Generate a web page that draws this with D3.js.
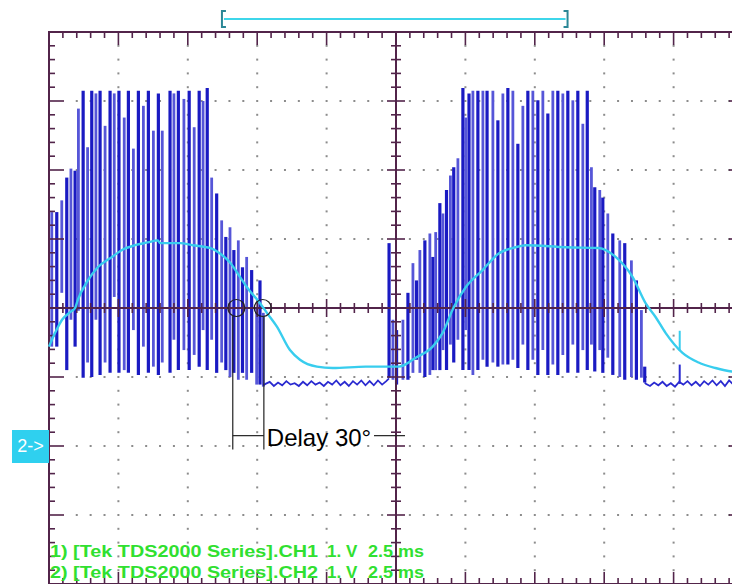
<!DOCTYPE html>
<html><head><meta charset="utf-8">
<script src="https://cdn.jsdelivr.net/npm/d3@7"></script>
<style>body{margin:0;background:#fff}svg{display:block}</style>
</head><body><svg id="c" width="732" height="584"></svg>
<script>
// ---- data (time in ms, 2.5 ms/div; voltage in V, 1 V/div) ----
const timeDomain = [0, 25];
const voltDomain = [-4, 4];
// CH1 PWM pulses: [time, top, bottom]
const ch1Pulses = [
 [0.10,1.39,-0.56],[0.28,1.39,-0.56],[0.46,1.56,0.22],[0.64,1.89,-0.90],[0.79,2.02,-0.17],
 [0.94,1.99,-0.56],[1.06,2.89,-0.04],[1.23,3.15,-1.01],[1.39,2.33,-0.79],[1.54,3.15,-1.00],
 [1.69,3.11,-0.17],[1.84,3.15,-0.97],[2.02,2.64,-0.79],[2.20,3.15,-0.94],[2.35,3.11,0.16],
 [2.52,3.15,-0.94],[2.71,2.76,-0.90],[2.86,3.15,-0.94],[3.04,2.31,-0.32],[3.22,3.15,-0.97],
 [3.40,2.93,-0.56],[3.58,3.15,-0.94],[3.76,2.57,-0.85],[3.94,3.11,-0.97],[4.08,2.57,-0.79],
 [4.36,3.15,-0.94],[4.50,3.11,-0.46],[4.66,3.15,-0.90],[4.86,3.03,-0.61],[5.05,3.15,-0.90],
 [5.23,2.62,-0.68],[5.41,3.15,-0.85],[5.55,3.00,-0.32],[5.70,3.19,-0.90],[5.86,1.89,-0.46],
 [6.04,1.66,-0.94],[6.22,1.27,-0.79],[6.37,1.03,-0.90],[6.52,1.17,-1.00],[6.66,0.84,-0.94],
 [6.82,0.98,-1.04],[6.97,0.59,-0.94],[7.12,0.74,-1.04],[7.30,0.55,-0.94],[7.48,0.01,-1.11],
 [7.60,0.40,-1.11],[7.72,-0.07,-1.14],
 [12.25,0.94,-1.01],[12.39,-0.17,-1.04],[12.52,-0.32,-1.11],[12.75,-0.17,-1.04],[12.93,0.22,-1.04],
 [13.11,0.65,-0.94],[13.24,0.40,-0.75],[13.36,0.84,-0.94],[13.54,0.98,-1.00],[13.72,1.08,-0.97],
 [13.83,0.74,-0.90],[13.93,1.10,-0.90],[14.08,1.52,-0.90],[14.19,1.37,-0.61],[14.32,1.71,-0.90],
 [14.46,1.92,-0.53],[14.58,2.04,-0.79],[14.73,2.17,-0.46],[14.91,3.19,-0.90],[15.01,2.76,-0.32],
 [15.13,3.11,-0.90],[15.27,3.15,-0.97],[15.45,3.15,-0.90],[15.63,3.15,-0.75],[15.78,3.15,-0.85],
 [15.99,3.15,-0.79],[16.17,2.72,-0.85],[16.35,3.11,-0.82],[16.53,3.19,-0.82],[16.71,3.15,-0.75],
 [16.89,2.38,-0.87],[17.07,2.93,-0.53],[17.25,3.15,-0.90],[17.43,3.15,-0.75],[17.61,3.01,-0.97],
 [17.79,3.15,-0.61],[17.97,2.82,-0.97],[18.15,3.15,-0.82],[18.33,3.15,-0.97],[18.51,3.11,-0.68],
 [18.69,3.15,-0.94],[18.87,3.01,-0.53],[19.05,3.15,-0.94],[19.23,2.67,-0.61],[19.39,3.15,-0.90],
 [19.54,2.04,-0.53],[19.66,1.75,-0.92],[19.84,1.71,-0.61],[19.95,1.60,-0.94],[20.13,1.37,-0.72],
 [20.31,1.08,-0.97],[20.56,0.98,-1.00],[20.74,0.94,-1.04],[20.98,0.69,-1.00],[21.16,0.40,-1.04],
 [21.34,-0.03,-1.01],[21.46,-0.85,-1.08]
];
// CH1 idle level between bursts: [time, volt]
const ch1BaselineA = [
 [7.72,-1.12],[7.80,-1.10],[7.95,-1.07],[8.10,-1.13],[8.25,-1.08],[8.40,-1.12],[8.55,-1.06],[8.70,-1.11],
 [8.85,-1.09],[9.00,-1.13],[9.15,-1.07],[9.30,-1.12],[9.45,-1.06],[9.60,-1.11],[9.75,-1.08],
 [9.90,-1.13],[10.05,-1.07],[10.20,-1.11],[10.35,-1.05],[10.50,-1.12],[10.65,-1.07],[10.80,-1.13],
 [10.95,-1.06],[11.10,-1.11],[11.25,-1.05],[11.40,-1.12],[11.55,-1.06],[11.70,-1.12],[11.85,-1.05],
 [12.00,-1.11],[12.15,-1.06],[12.25,-1.02]
];
const ch1BaselineB = [
 [21.46,-1.08],[21.50,-1.10],[21.65,-1.13],[21.80,-1.08],[21.95,-1.12],[22.10,-1.07],[22.25,-1.13],[22.40,-1.09],
 [22.55,-1.14],[22.70,-1.07],[22.85,-1.11],[23.00,-1.06],[23.15,-1.12],[23.30,-1.07],[23.45,-1.13],
 [23.60,-1.06],[23.75,-1.11],[23.90,-1.05],[24.05,-1.12],[24.20,-1.06],[24.35,-1.13],[24.50,-1.05],
 [24.65,-1.11],[24.80,-1.06],[24.95,-1.12]
];
const ch1Spikes = [[22.72,-1.10,-0.82]];
// CH2 filtered output: [time, volt]
const ch2Trace = [
 [0,-0.56],[0.22,-0.36],[0.47,-0.17],[0.76,-0.06],[0.94,0],[1.04,0.12],[1.40,0.40],[1.76,0.59],
 [2.27,0.74],[2.63,0.84],[3.10,0.91],[3.56,0.95],[3.92,0.98],[4.00,0.94],[4.72,0.94],[5.18,0.91],
 [5.80,0.87],[6.16,0.79],[6.52,0.66],[6.88,0.45],[7.13,0.30],[7.60,0.07],[7.85,-0.07],[8.21,-0.27],
 [8.68,-0.61],[9.04,-0.75],[9.65,-0.85],[10.22,-0.87],[11.41,-0.85],[12.60,-0.85],[13.21,-0.72],
 [13.82,-0.56],[14.18,-0.36],[14.58,0.01],[15.01,0.30],[15.62,0.55],[16.20,0.79],[16.81,0.88],
 [17.17,0.91],[18.61,0.88],[19.80,0.87],[20.41,0.74],[21.02,0.45],[21.49,0.07],[21.85,-0.13],
 [22.21,-0.36],[22.82,-0.65],[23.40,-0.79],[24.01,-0.87],[24.59,-0.92],[25,-0.93]
];
const ch2Spikes = [[22.72,-0.62,-0.33]];
const bracketRange = [6.23, 18.68];
const delayMarks = [6.62, 7.74];
const crossings = [6.75, 7.70];
const ch2Ground = -2;
const annotation = "Delay 30°";
const legendNames = ["1) [Tek TDS2000 Series].CH1", "2) [Tek TDS2000 Series].CH2"];
const legendScale = "1. V";
const legendTime = "2.5 ms";

// ---- drawing ----
const svg = d3.select("#c");
const x = d3.scaleLinear().domain(timeDomain).range([49, 743]);
const y = d3.scaleLinear().domain(voltDomain).range([584, 32]);
const frame = "#52244a";
const eps = 1e-6;
const minorT = d3.range(0, 25 + eps, 0.5);
const minorV = d3.range(-4, 4 + eps, 0.2);
const isMajT = t => Math.abs(t / 2.5 - Math.round(t / 2.5)) < 1e-6;
const isMajV = v => Math.abs(v - Math.round(v)) < 1e-6;

// grid dots
const g = svg.append("g").attr("fill", "#8c8c8c");
d3.range(-3, 3 + eps, 1).filter(v => Math.abs(v) > eps).forEach(v => {
  minorT.filter(t => t > 0.6 && t < 24.9 && Math.abs(t - 12.5) > 0.1).forEach(t => {
    g.append("rect").attr("x", x(t) - 1).attr("y", y(v) - 1).attr("width", 2).attr("height", 2);
  });
});
d3.range(2.5, 25, 2.5).filter(t => Math.abs(t - 12.5) > 0.1).forEach(t => {
  minorV.filter(v => v > -3.9 && v < 3.9 && !isMajV(v)).forEach(v => {
    g.append("rect").attr("x", x(t) - 1).attr("y", y(v) - 1).attr("width", 2).attr("height", 2);
  });
});

// CH1 bars
const bars = svg.append("g");
bars.selectAll("line").data(ch1Pulses).join("line")
  .attr("x1", d => x(d[0])).attr("x2", d => x(d[0]))
  .attr("y1", d => y(d[1])).attr("y2", d => y(d[2]))
  .attr("stroke", (d, i) => i % 2 ? "#1a1ac2" : "#5656d8")
  .attr("stroke-width", (d, i) => i % 2 ? 3.2 : 2.8);
const lineGen = d3.line().x(d => x(d[0])).y(d => y(d[1]));
[ch1BaselineA, ch1BaselineB].forEach(b => {
  svg.append("path").attr("d", lineGen(b)).attr("fill", "none")
    .attr("stroke", "#2a2ad0").attr("stroke-width", 1.8);
});
svg.append("g").selectAll("line").data(ch1Spikes).join("line")
  .attr("x1", d => x(d[0])).attr("x2", d => x(d[0]))
  .attr("y1", d => y(d[1])).attr("y2", d => y(d[2]))
  .attr("stroke", "#2a2ad0").attr("stroke-width", 2);

// center axes and frame
const ax = svg.append("g").attr("stroke", frame);
ax.append("line").attr("x1", x(0)).attr("x2", x(25)).attr("y1", y(0)).attr("y2", y(0)).attr("stroke-width", 2);
ax.append("line").attr("x1", x(12.5)).attr("x2", x(12.5)).attr("y1", y(4)).attr("y2", y(-4)).attr("stroke-width", 2);
minorT.forEach(t => {
  const L = isMajT(t) ? 9 : 5;
  ax.append("line").attr("x1", x(t)).attr("x2", x(t)).attr("y1", y(0) - L).attr("y2", y(0) + L).attr("stroke-width", 1.6);
  const T = isMajT(t) ? 13 : 6;
  ax.append("line").attr("x1", x(t)).attr("x2", x(t)).attr("y1", y(4)).attr("y2", y(4) + T).attr("stroke-width", 1.6);
  ax.append("line").attr("x1", x(t)).attr("x2", x(t)).attr("y1", y(-4)).attr("y2", y(-4) - (isMajT(t) ? 12 : 6)).attr("stroke-width", 1.6);
});
minorV.forEach(v => {
  const L = isMajV(v) ? 9 : 5;
  ax.append("line").attr("x1", x(12.5) - L).attr("x2", x(12.5) + L).attr("y1", y(v)).attr("y2", y(v)).attr("stroke-width", 1.6);
  const T = isMajV(v) ? 15 : 6;
  ax.append("line").attr("x1", x(0)).attr("x2", x(0) + T).attr("y1", y(v)).attr("y2", y(v)).attr("stroke-width", 1.6);
  ax.append("line").attr("x1", x(25)).attr("x2", x(25) - (isMajV(v) ? 14 : 6)).attr("y1", y(v)).attr("y2", y(v)).attr("stroke-width", 1.6);
});
ax.append("rect").attr("x", x(0)).attr("y", y(4)).attr("width", x(25) - x(0)).attr("height", y(-4) - y(4))
  .attr("fill", "none").attr("stroke-width", 2);

// CH2 trace
svg.append("path").attr("d", lineGen.curve(d3.curveMonotoneX)(ch2Trace)).attr("fill", "none")
  .attr("stroke", "#38cdee").attr("stroke-width", 2.4);
svg.append("g").selectAll("line").data(ch2Spikes).join("line")
  .attr("x1", d => x(d[0])).attr("x2", d => x(d[0]))
  .attr("y1", d => y(d[1])).attr("y2", d => y(d[2]))
  .attr("stroke", "#38cdee").attr("stroke-width", 2);

// annotation
const an = svg.append("g").attr("stroke", "#222").attr("fill", "none");
crossings.forEach(t => an.append("circle").attr("cx", x(t)).attr("cy", y(0)).attr("r", 8.5).attr("stroke-width", 1.2));
delayMarks.forEach(t => an.append("line").attr("x1", x(t)).attr("x2", x(t)).attr("y1", y(-0.12)).attr("y2", y(-2.05)).attr("stroke-width", 1.2));
an.append("line").attr("x1", x(delayMarks[0])).attr("x2", x(delayMarks[1])).attr("y1", y(-1.85)).attr("y2", y(-1.85)).attr("stroke-width", 1.2);
an.append("line").attr("x1", 374).attr("x2", 405).attr("y1", y(-1.85)).attr("y2", y(-1.85)).attr("stroke-width", 1.2);
svg.append("text").attr("x", x(delayMarks[1]) + 3).attr("y", y(-1.85) + 10)
  .attr("font-family", "Liberation Sans, Arial, sans-serif").attr("font-size", 24).attr("fill", "#000")
  .text(annotation);

// CH2 ground marker
svg.append("rect").attr("x", 12).attr("y", y(ch2Ground) - 16).attr("width", x(0) - 12).attr("height", 33).attr("fill", "#2fd0ef");
svg.append("text").attr("x", (12 + x(0)) / 2).attr("y", y(ch2Ground) + 6).attr("text-anchor", "middle")
  .attr("font-family", "Liberation Sans, Arial, sans-serif").attr("font-size", 18).attr("fill", "#fff").text("2->");

// trigger bracket
const br = svg.append("g");
br.append("line").attr("x1", x(bracketRange[0]) + 2).attr("x2", x(bracketRange[1]) - 2).attr("y1", 19).attr("y2", 19)
  .attr("stroke", "#3ed6ea").attr("stroke-width", 2);
br.append("path").attr("d", `M${x(bracketRange[0]) + 4},11 H${x(bracketRange[0])} V27 H${x(bracketRange[0]) + 4}`)
  .attr("fill", "none").attr("stroke", "#2b8796").attr("stroke-width", 2);
br.append("path").attr("d", `M${x(bracketRange[1]) - 4},11 H${x(bracketRange[1])} V27 H${x(bracketRange[1]) - 4}`)
  .attr("fill", "none").attr("stroke", "#2b8796").attr("stroke-width", 2);

// legend
const lg = svg.append("g").attr("font-family", "Liberation Sans, Arial, sans-serif").attr("font-weight", "bold")
  .attr("font-size", 17).attr("fill", "#30e030");
legendNames.forEach((n, i) => {
  const by = 557 + i * 21;
  lg.append("text").attr("x", 50).attr("y", by).attr("textLength", 268).attr("lengthAdjust", "spacingAndGlyphs").text(n);
  lg.append("text").attr("x", 327).attr("y", by).text(legendScale);
  lg.append("text").attr("x", 368).attr("y", by).attr("textLength", 56).attr("lengthAdjust", "spacingAndGlyphs").text(legendTime);
});
</script></body></html>
